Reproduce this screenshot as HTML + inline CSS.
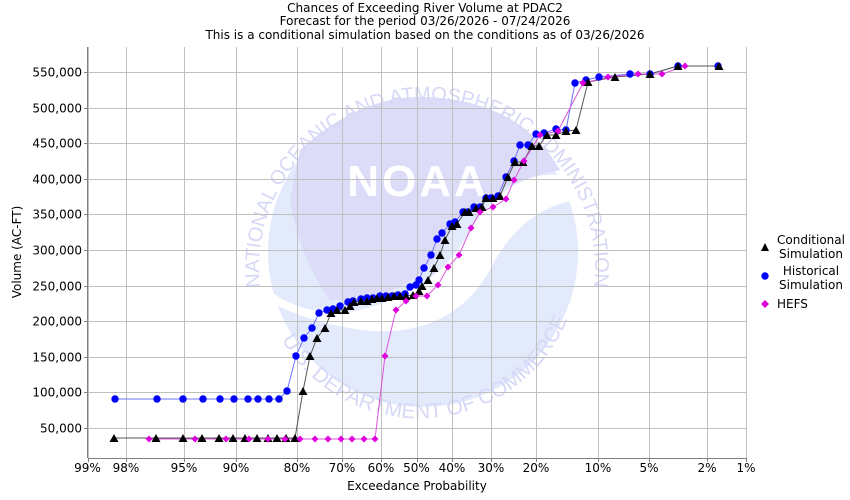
<!DOCTYPE html>
<html><head><meta charset="utf-8"><style>
html,body{margin:0;padding:0;background:#fff}
svg{display:block;font-family:"DejaVu Sans","Liberation Sans",sans-serif}
</style></head><body>
<svg id="s" width="850" height="500" xmlns="http://www.w3.org/2000/svg">
<defs>
<path id="arcTop" d="M 262 300 A 168 168 0 1 1 592 300"/>
<path id="arcBot" d="M 285 345 A 160 160 0 0 0 565 325"/>
<clipPath id="pc"><rect x="88" y="47" width="658" height="411"/></clipPath>
</defs>
<rect width="850" height="500" fill="#fff"/>
<g clip-path="url(#pc)">
<circle cx="423" cy="252" r="155" fill="#e2eafc"/>
<path d="M 300 150 Q 360 95 425 97 Q 520 100 560 170 Q 470 190 445 240 Q 420 300 330 300 Q 300 260 290 200 Z" fill="#dcdcf8"/>
<path d="M 268 290 Q 310 320 360 310 Q 440 290 470 230 Q 510 170 560 175 L 575 200 Q 520 210 490 270 Q 450 340 360 330 Q 300 320 268 300 Z" fill="#fff"/>
<text x="418" y="196" font-size="44" font-weight="bold" fill="#fff" text-anchor="middle" letter-spacing="3" font-family="Liberation Sans,sans-serif">NOAA</text>
<text font-size="20" fill="#d6d8f6" font-family="Liberation Sans,sans-serif"><textPath href="#arcTop" startOffset="50%" text-anchor="middle">NATIONAL OCEANIC AND ATMOSPHERIC ADMINISTRATION</textPath></text>
<text font-size="21" fill="#d6d8f6" font-family="Liberation Sans,sans-serif"><textPath href="#arcBot" startOffset="50%" text-anchor="middle">U.S. DEPARTMENT OF COMMERCE</textPath></text>
</g>
<g id="grid" stroke="#c0c0c0" stroke-width="1"></g>
<g id="axes"></g>
<g id="data"></g>
<text x="425" y="12" font-size="12" text-anchor="middle">Chances of Exceeding River Volume at PDAC2</text>
<text x="425" y="25" font-size="12" text-anchor="middle">Forecast for the period 03/26/2026 - 07/24/2026</text>
<text x="425" y="39" font-size="12" text-anchor="middle">This is a conditional simulation based on the conditions as of 03/26/2026</text>
<text x="417" y="490" font-size="12" text-anchor="middle">Exceedance Probability</text>
<text transform="translate(21,252) rotate(-90)" font-size="12" text-anchor="middle">Volume (AC-FT)</text>
<g font-size="12">
<polygon points="765,243 761,251 769,251" fill="#000"/>
<text x="811" y="244" text-anchor="middle">Conditional</text><text x="811" y="258" text-anchor="middle">Simulation</text>
<circle cx="765" cy="276" r="3.7" fill="#0000ff"/>
<text x="811" y="275" text-anchor="middle">Historical</text><text x="811" y="289" text-anchor="middle">Simulation</text>
<polygon points="765,300 769,304 765,308 761,304" fill="#dd00dd"/>
<text x="777" y="308">HEFS</text>
</g>
</svg>
<script>
const NS="http://www.w3.org/2000/svg";
function el(p,t,a,txt){const e=document.createElementNS(NS,t);for(const k in a)e.setAttribute(k,a[k]);if(txt)e.textContent=txt;p.appendChild(e);return e;}
const g=document.getElementById('grid'),ax=document.getElementById('axes'),d=document.getElementById('data');
const L=88,R=746,T=47,B=458;
function yv(v){return 427.7-(v-50000)*0.0007108;}
for(let v=50000;v<=550000;v+=50000){const y=Math.round(yv(v))+0.5;el(g,'line',{x1:L,x2:R,y1:y,y2:y});
el(ax,'text',{x:82,y:y+4,'font-size':12,'text-anchor':'end'},v.toLocaleString('en-US'));el(ax,'line',{x1:L-4,x2:L,y1:y,y2:y,stroke:'#808080'});}
const xt=[[87.5,'99%'],[126,'98%'],[184,'95%'],[236,'90%'],[297,'80%'],[342,'70%'],[381,'60%'],[416.5,'50%'],[452,'40%'],[491,'30%'],[536,'20%'],[598,'10%'],[649,'5%'],[707,'2%'],[746,'1%']];
xt.forEach(([x,l])=>{const xx=Math.round(x)+0.5;el(g,'line',{x1:xx,x2:xx,y1:T,y2:B});el(ax,'line',{x1:xx,x2:xx,y1:B,y2:B+4,stroke:'#808080'});el(ax,'text',{x:x,y:472,'font-size':12,'text-anchor':'middle'},l);});
el(ax,'line',{x1:L-0.5,x2:L-0.5,y1:T,y2:B,stroke:'#808080'});
el(ax,'line',{x1:L,x2:R,y1:B+0.5,y2:B+0.5,stroke:'#808080'});
const blue=[[115,399],[157,399],[183,399],[203,399],[220,399],[234,399],[248,399],[258,399],[269,399],[279,399],[287,391],[296,356],[304,338],[312,328],[319,313],[327,310],[333,309],[340,306],[348,302],[353,301],[361,299],[367,298],[373,298],[380,296],[386,296],[392,296],[398,295],[405,294],[410,287],[416,285],[419,280],[424,268],[431,255],[437,239],[442,233],[450,224],[455,222],[463,212],[468,212],[474,207],[480,207],[486,198],[491,198],[498,196],[506,177],[514,161],[520,145],[528,145],[536,134],[544,133],[556,129],[566,130],[575,83],[586,80],[599,77],[630,74],[650,74],[678,66],[718,66]];
const blk=[[114,438],[156,438],[183,438],[202,438],[219,438],[233,438],[245,438],[257,438],[268,438],[277,438],[286,438],[295,438],[303,391],[310,356],[317,338],[325,328],[331,313],[337,310],[345,310],[350,306],[354,302],[361,301],[367,301],[372,299],[377,298],[382,298],[388,297],[394,296],[400,296],[406,296],[413,295],[419,291],[422,286],[428,280],[434,268],[440,255],[445,240],[452,226],[457,224],[465,212],[469,212],[476,208],[482,207],[486,198],[493,198],[500,196],[508,177],[515,162],[523,162],[532,146],[539,146],[547,135],[556,135],[566,131],[576,130],[588,82],[615,77],[650,74],[678,66],[719,66]];
const mag=[[149,439],[195,439],[226,439],[249,439],[268,439],[285,439],[300,439],[315,439],[328,439],[341,439],[352,439],[364,439],[375,439],[385,356],[396,310],[406,301],[416,296],[427,296],[438,285],[448,267],[459,255],[471,228],[480,212],[493,207],[506,199],[514,180],[524,161],[540,135],[558,131],[583,83],[608,77],[638,74],[662,74],[685,66]];
function line(p,c){el(d,'polyline',{points:p.map(q=>q.join(',')).join(' '),fill:'none',stroke:c,'stroke-width':1});}
line(blue,'#7070ff');line(blk,'#555');line(mag,'#dd55dd');
blue.forEach(([x,y])=>el(d,'circle',{cx:x,cy:y,r:3.7,fill:'#0000ff'}));
blk.forEach(([x,y])=>el(d,'polygon',{points:`${x},${y-4} ${x-4.5},${y+4} ${x+4.5},${y+4}`,fill:'#000'}));
mag.forEach(([x,y])=>el(d,'polygon',{points:`${x},${y-3.5} ${x+3.5},${y} ${x},${y+3.5} ${x-3.5},${y}`,fill:'#dd00dd'}));
</script>
</body></html>
